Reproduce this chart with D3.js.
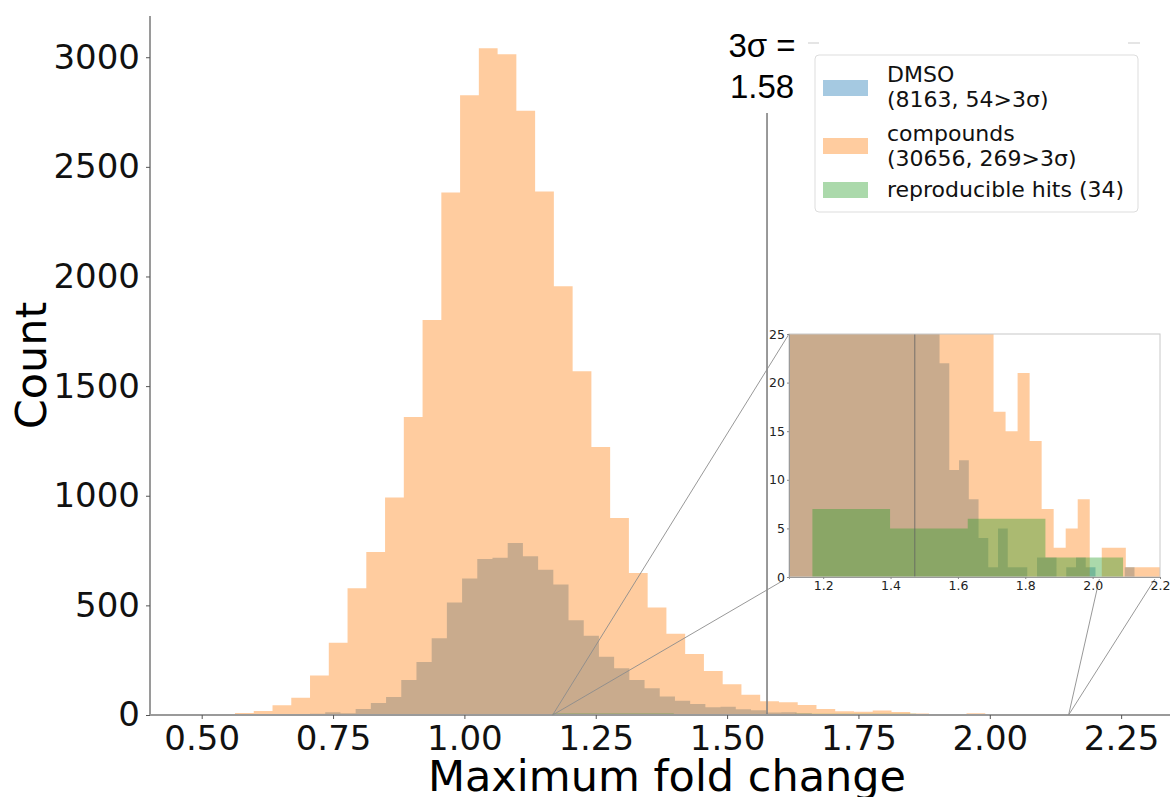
<!DOCTYPE html>
<html>
<head>
<meta charset="utf-8">
<script src="https://cdn.jsdelivr.net/npm/d3@7"></script>
<style>
  html, body { margin: 0; padding: 0; background: #fff; }
  svg { display: block; }
</style>
</head>
<body>
<svg id="chart" width="1173" height="797"></svg>
<script>
// ---- Histogram data (counts per bin) ----
// DMSO controls: 50 bins starting at 0.7062, width 0.02894
const dmsoBinStart = 0.7062;
const dmsoBinWidth = 0.02894;
const dmsoCounts = [6, 12, 8, 27, 55, 82, 160, 242, 350, 513,
                    622, 712, 717, 784, 724, 662, 595, 432, 361, 266,
                    213, 160, 122, 84, 65, 50, 35, 38, 26, 22,
                    11, 12, 8, 4, 1, 5, 1, 1, 0, 2,
                    2, 0, 1, 2, 1, 0, 0, 0, 1, 0];

// Compounds: 50 bins starting at 0.492, width 0.0357
const compBinStart = 0.492;
const compBinWidth = 0.0357;
const compCounts = [3, 4, 9, 18, 44, 79, 180, 329, 578, 743,
                    992, 1359, 1802, 2383, 2826, 3041, 3013, 2756, 2388, 1956,
                    1568, 1222, 899, 648, 490, 371, 278, 201, 140, 92,
                    63, 58, 46, 27, 17, 15, 21, 14, 7, 3,
                    5, 8, 0, 3, 3, 1, 1, 1, 0, 1];

// Reproducible hits: 4 bins starting at 1.168, width 0.2306
const hitBinStart = 1.168;
const hitBinWidth = 0.2306;
const hitCounts = [7, 5, 6, 2];

// Thresholds
const sigmaMain = 1.576;    // 3σ line on the main axes
const sigmaInset = 1.472;   // reference line drawn in the zoomed panel

// Axis ticks
const xTicksMain = [0.50, 0.75, 1.00, 1.25, 1.50, 1.75, 2.00, 2.25];
const yTicksMain = [0, 500, 1000, 1500, 2000, 2500, 3000];
const xTicksInset = [1.2, 1.4, 1.6, 1.8, 2.0, 2.2];
const yTicksInset = [0, 5, 10, 15, 20, 25];

// Zoom region shown in the inset (in main-axis data units)
const zoomRange = [1.168, 2.15];
const zoomTargets = [2.02, 2.185];  // where the right-hand guide lines meet the inset

// Legend entries
const legendItems = [
  { lines: ["DMSO", "(8163, 54>3σ)"], color: "#1f77b4" },
  { lines: ["compounds", "(30656, 269>3σ)"], color: "#ff7f0e" },
  { lines: ["reproducible hits (34)"], color: "#2ca02c" }
];

const ALPHA = 0.4;
const svg = d3.select("#chart");

function bins(start, width, counts) {
  return counts.map((c, i) => ({ x0: start + i * width, x1: start + (i + 1) * width, c }));
}
const series = [
  { bins: bins(dmsoBinStart, dmsoBinWidth, dmsoCounts), color: "#1f77b4" },
  { bins: bins(compBinStart, compBinWidth, compCounts), color: "#ff7f0e" },
  { bins: bins(hitBinStart, hitBinWidth, hitCounts), color: "#2ca02c" }
];

// step-outline path for a histogram
function histPath(b, x, y) {
  const pts = [];
  b.forEach(d => { pts.push([d.x0, d.c]); pts.push([d.x1, d.c]); });
  const area = d3.area()
    .x(p => x(p[0]))
    .y0(y(0))
    .y1(p => y(p[1]));
  return area(pts);
}

// ---- Main axes ----
const x = d3.scaleLinear().domain([0.4016, 2.343]).range([150, 1170]);
const y = d3.scaleLinear().domain([0, 3188]).range([715, 16]);

const main = svg.append("g");
series.forEach(s => {
  main.append("path")
    .attr("d", histPath(s.bins, x, y))
    .attr("fill", s.color)
    .attr("fill-opacity", ALPHA);
});

// 3σ line
main.append("line")
  .attr("x1", x(sigmaMain)).attr("x2", x(sigmaMain))
  .attr("y1", 113).attr("y2", y(0))
  .attr("stroke", "#808080").attr("stroke-width", 1.6);

// axes
const xAxis = d3.axisBottom(x).tickValues(xTicksMain).tickFormat(d3.format(".2f")).tickSize(4).tickPadding(7);
const yAxis = d3.axisLeft(y).tickValues(yTicksMain).tickFormat(d3.format("d")).tickSize(4).tickPadding(6);

const gx = main.append("g").attr("transform", `translate(0,${y(0)})`).call(xAxis);
const gy = main.append("g").attr("transform", `translate(${x.range()[0]},0)`).call(yAxis);
[gx, gy].forEach(g => {
  g.select(".domain").attr("stroke", "#9a9a9a").attr("stroke-width", 2);
  g.selectAll(".tick line").attr("stroke", "#555");
  g.selectAll(".tick text")
    .attr("font-family", "DejaVu Sans")
    .attr("font-size", 34)
    .attr("fill", "#111");
});
gy.select(".domain").attr("d", `M0,${y.range()[1]}V${y(0)}`);
gx.select(".domain").attr("d", `M${x.range()[0]},0H${x.range()[1]}`);

// axis titles
main.append("text")
  .attr("x", (x.range()[0] + x.range()[1]) / 2 + 7)
  .attr("y", 791)
  .attr("text-anchor", "middle")
  .attr("font-family", "DejaVu Sans")
  .attr("font-size", 43)
  .attr("fill", "#000")
  .text("Maximum fold change");

main.append("text")
  .attr("transform", `translate(46,${(y.range()[0] + y.range()[1]) / 2}) rotate(-90)`)
  .attr("text-anchor", "middle")
  .attr("font-family", "DejaVu Sans")
  .attr("font-size", 43)
  .attr("fill", "#000")
  .text("Count");

// 3σ annotation
const ann = main.append("text")
  .attr("font-family", "Liberation Sans, Arial, sans-serif")
  .attr("font-size", 33)
  .attr("fill", "#000")
  .attr("text-anchor", "middle");
ann.append("tspan").attr("x", x(sigmaMain) - 5).attr("y", 57).text("3σ =");
ann.append("tspan").attr("x", x(sigmaMain) - 5).attr("y", 98).text("1.58");

// faint segments at the top right
main.append("line").attr("x1", 808).attr("x2", 819).attr("y1", 43).attr("y2", 43)
  .attr("stroke", "#dcdcdc").attr("stroke-width", 1.5);
main.append("line").attr("x1", 1128).attr("x2", 1140).attr("y1", 43).attr("y2", 43)
  .attr("stroke", "#dcdcdc").attr("stroke-width", 1.5);

// ---- Inset ----
const xi = d3.scaleLinear().domain([1.0985, 2.2]).range([789, 1160]);
const yi = d3.scaleLinear().domain([0, 25]).range([577, 334]);

// guide lines joining the zoomed region to the inset
const guides = main.append("g").attr("stroke", "#8c8c8c").attr("stroke-width", 0.9).attr("fill", "none");
guides.append("line")
  .attr("x1", x(zoomRange[0])).attr("y1", y(0))
  .attr("x2", xi.range()[0]).attr("y2", yi(25));
guides.append("line")
  .attr("x1", x(zoomRange[0])).attr("y1", y(0))
  .attr("x2", xi.range()[0] - 5).attr("y2", yi(0) + 3);
guides.append("line")
  .attr("x1", x(zoomRange[1])).attr("y1", y(0))
  .attr("x2", xi(zoomTargets[0])).attr("y2", yi(0) + 2);
guides.append("line")
  .attr("x1", x(zoomRange[1])).attr("y1", y(0))
  .attr("x2", xi(zoomTargets[1])).attr("y2", yi(0) + 2);

const inset = svg.append("g");
inset.append("rect")
  .attr("x", xi.range()[0]).attr("y", yi.range()[1])
  .attr("width", xi.range()[1] - xi.range()[0])
  .attr("height", yi.range()[0] - yi.range()[1])
  .attr("fill", "#fff");

svg.append("defs").append("clipPath").attr("id", "insetClip")
  .append("rect")
  .attr("x", xi.range()[0]).attr("y", yi.range()[1])
  .attr("width", xi.range()[1] - xi.range()[0])
  .attr("height", yi.range()[0] - yi.range()[1]);

const insetPlot = inset.append("g").attr("clip-path", "url(#insetClip)");
series.forEach(s => {
  insetPlot.append("path")
    .attr("d", histPath(s.bins, xi, yi))
    .attr("fill", s.color)
    .attr("fill-opacity", ALPHA);
});
insetPlot.append("line")
  .attr("x1", xi(sigmaInset)).attr("x2", xi(sigmaInset))
  .attr("y1", yi(0)).attr("y2", yi(25))
  .attr("stroke", "#606060").attr("stroke-width", 1).attr("stroke-opacity", 0.8);

// inset frame
inset.append("rect")
  .attr("x", xi.range()[0]).attr("y", yi.range()[1])
  .attr("width", xi.range()[1] - xi.range()[0])
  .attr("height", yi.range()[0] - yi.range()[1])
  .attr("fill", "none").attr("stroke", "#c8c8c8").attr("stroke-width", 1);

const gxi = inset.append("g").attr("transform", `translate(0,${yi(0)})`)
  .call(d3.axisBottom(xi).tickValues(xTicksInset).tickFormat(d3.format(".1f")).tickSize(2).tickPadding(2));
const gyi = inset.append("g").attr("transform", `translate(${xi.range()[0]},0)`)
  .call(d3.axisLeft(yi).tickValues(yTicksInset).tickFormat(d3.format("d")).tickSize(2).tickPadding(2));
[gxi, gyi].forEach(g => {
  g.select(".domain").attr("stroke", "#9a9a9a");
  g.selectAll(".tick line").attr("stroke", "#888");
  g.selectAll(".tick text")
    .attr("font-family", "DejaVu Sans")
    .attr("font-size", 12.5)
    .attr("fill", "#222");
});

// ---- Legend ----
const lg = svg.append("g");
lg.append("rect")
  .attr("x", 815).attr("y", 55).attr("width", 323).attr("height", 157)
  .attr("rx", 4).attr("fill", "#fff").attr("fill-opacity", 0.9)
  .attr("stroke", "#dddddd").attr("stroke-width", 1);
const rowBaseline = [82, 141, 197];
const patchCenter = [88, 146, 190];
legendItems.forEach((item, i) => {
  lg.append("rect")
    .attr("x", 823).attr("y", patchCenter[i] - 8)
    .attr("width", 45).attr("height", 16)
    .attr("fill", item.color).attr("fill-opacity", ALPHA);
  const t = lg.append("text")
    .attr("font-family", "DejaVu Sans")
    .attr("font-size", 22)
    .attr("fill", "#111");
  item.lines.forEach((ln, j) => {
    t.append("tspan").attr("x", 887).attr("y", rowBaseline[i] + j * 25).text(ln);
  });
});
</script>
</body>
</html>
